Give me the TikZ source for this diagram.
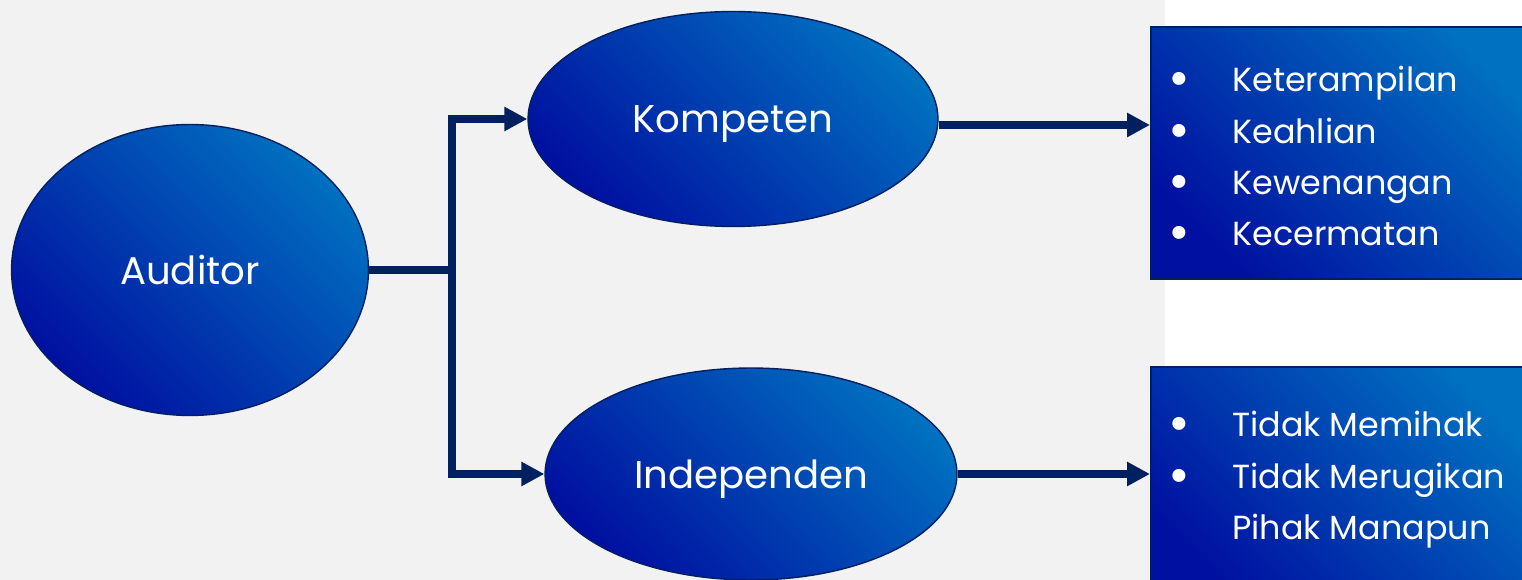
\documentclass[tikz,border=0pt]{standalone}
\usepackage{fontspec}
\setmainfont{Poppins}
\usetikzlibrary{arrows.meta,shapes.geometric,positioning}
\definecolor{navy}{RGB}{0,32,96}
\definecolor{deepblue}{RGB}{0,16,160}
\definecolor{skyblue}{RGB}{0,112,192}
\newcommand{\bigbullet}{\raisebox{-0.1cm}{\fontsize{30}{29.2}\selectfont\textbullet}}
\begin{document}
\begin{tikzpicture}[x=0.02cm,y=-0.02cm,
  oval/.style={ellipse,draw=navy,line width=0.8pt,bottom color=deepblue,top color=skyblue,shading angle=-45,text=white,text depth=0pt,font=\fontsize{22}{26}\selectfont},
  listbox/.style={rectangle,draw=navy,line width=1.2pt,bottom color=deepblue,top color=skyblue,shading angle=-45,anchor=north west,inner sep=0pt},
  listtext/.style={anchor=base west,inner sep=0pt,text=white,font=\fontsize{19}{29.2}\selectfont},
  link/.style={navy,line width=4.5pt},
  arr/.style={link,-{Triangle[length=0.46cm,width=0.46cm]}}]
 \clip (0,0) rectangle (1522,580);
 \fill[white] (0,0) rectangle (1522,580);
 \fill[gray!10] (0,0) rectangle (1165,580);
 % ovals
 \node[oval,minimum width=7.14cm,minimum height=5.82cm] (aud) at (190,270) {Auditor};
 \node[oval,minimum width=8.2cm,minimum height=4.3cm] (komp) at (733,119) {Kompeten};
 \node[oval,minimum width=8.24cm,minimum height=4.24cm] (indep) at (751,474) {Independen};
 % boxes
 \node[listbox,minimum width=7.8cm,minimum height=5.04cm] (box1) at (1150,26) {};
 \node[listbox,minimum width=7.8cm,minimum height=4.8cm] (box2) at (1150,366) {};
 \node[listtext] (list1) at (1168,92) {\begin{tabular}[t]{@{}p{1.28cm}@{}l@{}}
   \bigbullet & Keterampilan\\ \bigbullet & Keahlian\\ \bigbullet & Kewenangan\\ \bigbullet & Kecermatan
 \end{tabular}};
 \node[listtext] (list2) at (1168,437) {\begin{tabular}[t]{@{}p{1.28cm}@{}l@{}}
   \bigbullet & Tidak Memihak\\ \bigbullet & Tidak Merugikan\\ & Pihak Manapun
 \end{tabular}};
 % connectors
 \coordinate (jn) at (452,270);
 \draw[link] (aud.east) -- (jn);
 \draw[arr] (jn) |- (komp.west);
 \draw[arr] (jn) |- (indep.west);
 \draw[arr] ([yshift=-0.12cm]komp.east) -- ([yshift=-0.12cm]komp.east -| box1.west);
 \draw[arr] (indep.east) -- (indep.east -| box2.west);
\end{tikzpicture}
\end{document}
